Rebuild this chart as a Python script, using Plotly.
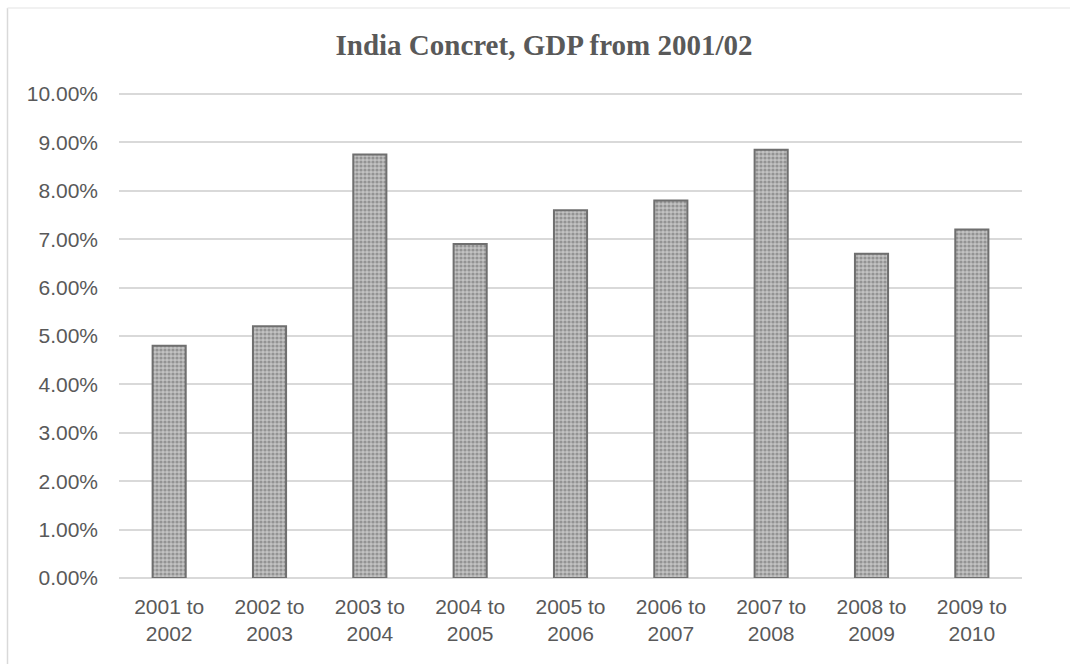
import plotly.graph_objects as go

categories = ["2001 to<br>2002", "2002 to<br>2003", "2003 to<br>2004", "2004 to<br>2005",
              "2005 to<br>2006", "2006 to<br>2007", "2007 to<br>2008", "2008 to<br>2009",
              "2009 to<br>2010"]
growth = [0.048, 0.052, 0.0875, 0.069, 0.076, 0.078, 0.0885, 0.067, 0.072]
y_ticks = [i / 100 for i in range(0, 11)]

fig = go.Figure(go.Bar(
    x=categories, y=growth, width=0.33,
    marker=dict(
        color="#b8b8b8",
        line=dict(color="#6f6f6f", width=2),
        pattern=dict(shape=".", fgcolor="#646464", bgcolor="#c2c2c2", size=4, solidity=0.5),
    ),
))

L, R, T, B = 119, 48, 84, 86
W, H = 1070, 664
pw, ph = W - L - R, H - T - B
px_per_unit = 484 / 0.1  # 0% at y=578, 10% at y=94
y_top = ph / px_per_unit

fig.update_layout(
    width=W, height=H,
    margin=dict(l=L, r=R, t=T, b=B, pad=0),
    paper_bgcolor="white", plot_bgcolor="white",
    showlegend=False,
    title=dict(text="<b>India Concret, GDP from 2001/02</b>",
               font=dict(family="Liberation Serif", size=29, color="#595959"),
               x=(544) / W, xanchor="center", y=1 - 45 / H, yanchor="middle"),
    font=dict(family="Liberation Sans", size=21, color="#595959"),
    shapes=[
        dict(type="line", xref="paper", yref="paper",
             x0=(7.5 - L) / pw, x1=(7.5 - L) / pw, y0=(H - B - 8) / ph, y1=-1,
             line=dict(color="#d9d9d9", width=1.5)),
        dict(type="line", xref="paper", yref="paper",
             x0=(7.5 - L) / pw, x1=2, y0=(H - B - 8) / ph, y1=(H - B - 8) / ph,
             line=dict(color="#ececec", width=1.5)),
    ],
)
fig.update_xaxes(showgrid=False, showline=False, zeroline=False,
                 ticks="", ticklabelstandoff=14, tickfont=dict(size=21, color="#595959"))
fig.update_yaxes(range=[0, y_top], tickvals=y_ticks, tickformat=".2%",
                 showgrid=True, gridcolor="#d9d9d9", gridwidth=1.5,
                 zeroline=True, zerolinecolor="#d9d9d9", zerolinewidth=1.5,
                 showline=False, ticks="", ticklabelstandoff=20,
                 tickfont=dict(size=21, color="#595959"))

fig.write_html("out.html")
